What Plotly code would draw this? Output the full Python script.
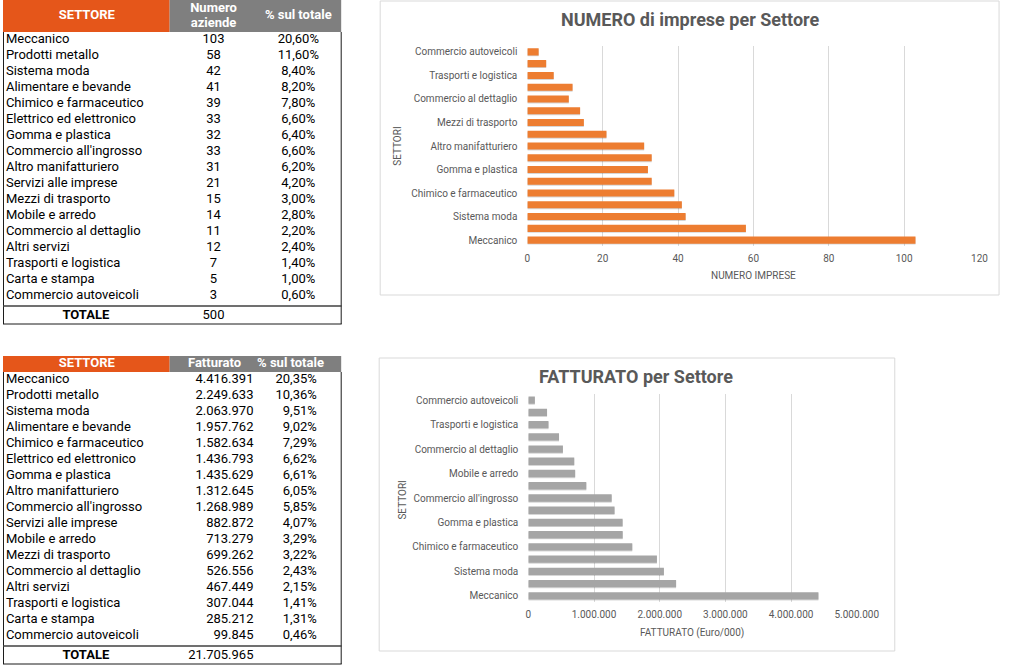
import plotly.graph_objects as go

# ---------------- DATA ----------------
settori_num = ["Meccanico", "Prodotti metallo", "Sistema moda", "Alimentare e bevande",
               "Chimico e farmaceutico", "Elettrico ed elettronico", "Gomma e plastica",
               "Commercio all'ingrosso", "Altro manifatturiero", "Servizi alle imprese",
               "Mezzi di trasporto", "Mobile e arredo", "Commercio al dettaglio",
               "Altri servizi", "Trasporti e logistica", "Carta e stampa",
               "Commercio autoveicoli"]
numero_aziende = [103, 58, 42, 41, 39, 33, 32, 33, 31, 21, 15, 14, 11, 12, 7, 5, 3]
perc_numero = ["20,60%", "11,60%", "8,40%", "8,20%", "7,80%", "6,60%", "6,40%", "6,60%",
               "6,20%", "4,20%", "3,00%", "2,80%", "2,20%", "2,40%", "1,40%", "1,00%", "0,60%"]
totale_numero = 500

settori_fatt = ["Meccanico", "Prodotti metallo", "Sistema moda", "Alimentare e bevande",
                "Chimico e farmaceutico", "Elettrico ed elettronico", "Gomma e plastica",
                "Altro manifatturiero", "Commercio all'ingrosso", "Servizi alle imprese",
                "Mobile e arredo", "Mezzi di trasporto", "Commercio al dettaglio",
                "Altri servizi", "Trasporti e logistica", "Carta e stampa",
                "Commercio autoveicoli"]
fatturato = [4416391, 2249633, 2063970, 1957762, 1582634, 1436793, 1435629, 1312645,
             1268989, 882872, 713279, 699262, 526556, 467449, 307044, 285212, 99845]
perc_fatt = ["20,35%", "10,36%", "9,51%", "9,02%", "7,29%", "6,62%", "6,61%", "6,05%",
             "5,85%", "4,07%", "3,29%", "3,22%", "2,43%", "2,15%", "1,41%", "1,31%", "0,46%"]
totale_fatt = 21705965

x_ticks_num = [0, 20, 40, 60, 80, 100, 120]
x_ticks_fatt = [0, 1000000, 2000000, 3000000, 4000000, 5000000]

# ---------------- STYLE ----------------
W, H = 1024, 666
ORANGE_HDR = "#E5561A"
GRAY_HDR = "#7F7F7F"
ORANGE_BAR = "#ED7D31"
GRAY_BAR = "#A5A5A5"
TXT = "#595959"
GRID = "#D9D9D9"
FONT = "Roboto"
ROW_H = 16


def it_num(v):
    return f"{v:,}".replace(",", ".")


def px(x):
    return x / W


def py(y):
    return 1 - y / H


fig = go.Figure()


# ---------------- CHART BARS ----------------
def add_bar_chart(xa, ya, cats, vals, color):
    ax = "x" if xa == 1 else f"x{xa}"
    ay = "y" if ya == 1 else f"y{ya}"
    fig.add_trace(go.Bar(x=vals, y=cats, orientation="h", xaxis=ax, yaxis=ay,
                         marker=dict(color="rgba(0,0,0,0.16)", line_width=0),
                         width=0.6, offset=-0.38, hoverinfo="skip", showlegend=False))
    fig.add_trace(go.Bar(x=vals, y=cats, orientation="h", xaxis=ax, yaxis=ay,
                         marker=dict(color=color, line_width=0),
                         width=0.6, offset=-0.3, showlegend=False))


add_bar_chart(1, 1, settori_num, numero_aziende, ORANGE_BAR)
add_bar_chart(2, 2, settori_fatt, fatturato, GRAY_BAR)

tickfont = dict(family=FONT, size=10, color=TXT)
fig.update_layout(
    xaxis=dict(domain=[px(538), px(1002)], anchor="y", range=[0, 120], tickvals=x_ticks_num,
               showgrid=True, gridcolor=GRID, gridwidth=1, zeroline=False, showline=False,
               tickfont=tickfont, ticklabelstandoff=5, fixedrange=True),
    yaxis=dict(domain=[py(246), py(46)], anchor="x", type="category",
               categoryarray=settori_num, categoryorder="array",
               tickvals=settori_num[::2], showgrid=False, zeroline=False, showline=False,
               tickfont=tickfont, ticklabelstandoff=9, fixedrange=True),
    xaxis2=dict(domain=[px(539), px(876)], anchor="y2", range=[0, 5000000],
                tickvals=x_ticks_fatt, tickformat=",d",
                showgrid=True, gridcolor=GRID, gridwidth=1, zeroline=False, showline=False,
                tickfont=tickfont, ticklabelstandoff=5, fixedrange=True),
    yaxis2=dict(domain=[py(602), py(394)], anchor="x2", type="category",
                categoryarray=settori_fatt, categoryorder="array",
                tickvals=settori_fatt[::2], showgrid=False, zeroline=False, showline=False,
                tickfont=tickfont, ticklabelstandoff=9, fixedrange=True),
)


# ---------------- TABLES (text traces on hidden axes, pixel-like units) ----------------
def add_table(idx, top, height, header_h, col_specs, header_specs, rows, total_row, sep_y):
    ax, ay = f"x{idx}", f"y{idx}"
    fig.layout[f"xaxis{idx}"] = dict(domain=[0, px(348)], range=[0, 348], visible=False,
                                     fixedrange=True)
    fig.layout[f"yaxis{idx}"] = dict(domain=[py(top + height), py(top)], range=[height, 0],
                                     visible=False, fixedrange=True)
    # header fills
    fig.add_shape(type="rect", xref=ax, yref=ay, x0=0, x1=171, y0=0, y1=header_h,
                  fillcolor=ORANGE_HDR, line_width=0, layer="below")
    fig.add_shape(type="rect", xref=ax, yref=ay, x0=171, x1=347, y0=0, y1=header_h,
                  fillcolor=GRAY_HDR, line_width=0, layer="below")
    # header text
    for (hx, pos, lines) in header_specs:
        n = len(lines)
        for k, t in enumerate(lines):
            yy = header_h / 2 + (k - (n - 1) / 2) * 15.5
            fig.add_trace(go.Scatter(x=[hx], y=[yy], mode="text", text=[t],
                                     textposition=pos, xaxis=ax, yaxis=ay,
                                     textfont=dict(family=FONT, size=13, color="white",
                                                   weight="bold"),
                                     hoverinfo="skip", showlegend=False, cliponaxis=False))
    # body text
    n_rows = len(rows[0])
    ys = [header_h + ROW_H * (i + 0.5) for i in range(n_rows)]
    for (cx, pos), col in zip(col_specs, rows):
        fig.add_trace(go.Scatter(x=[cx] * n_rows, y=ys, mode="text", text=col,
                                 textposition=pos, xaxis=ax, yaxis=ay,
                                 textfont=dict(family=FONT, size=13, color="black"),
                                 hoverinfo="skip", showlegend=False, cliponaxis=False))
    # total row
    ty = (sep_y + height - 1) / 2 + 0.5
    for (cx, pos), t in zip(col_specs, total_row):
        if t == "":
            continue
        bold = t == "TOTALE"
        fig.add_trace(go.Scatter(x=[85 if bold else cx], y=[ty], mode="text", text=[t],
                                 textposition="middle center" if bold else pos,
                                 xaxis=ax, yaxis=ay,
                                 textfont=dict(family=FONT, size=13, color="black",
                                               weight="bold" if bold else "normal"),
                                 hoverinfo="skip", showlegend=False, cliponaxis=False))
    # borders
    line = dict(color="#1a1a1a", width=1)
    fig.add_shape(type="line", xref=ax, yref=ay, x0=0.5, x1=0.5, y0=header_h, y1=height - 1,
                  line=line)
    fig.add_shape(type="line", xref=ax, yref=ay, x0=347, x1=347, y0=header_h, y1=height - 1,
                  line=line)
    fig.add_shape(type="line", xref=ax, yref=ay, x0=0, x1=347.5, y0=sep_y, y1=sep_y,
                  line=dict(color="#404040", width=1.6))
    fig.add_shape(type="line", xref=ax, yref=ay, x0=0, x1=347.5, y0=height - 1,
                  y1=height - 1, line=line)


# Table 1
add_table(
    3, top=0, height=325, header_h=32,
    col_specs=[(3, "middle right"), (216, "middle center"), (303, "middle center")],
    header_specs=[(86, "middle center", ["SETTORE"]),
                  (216, "middle center", ["Numero", "aziende"]),
                  (303, "middle center", ["% sul totale"])],
    rows=[settori_num, [str(v) for v in numero_aziende], perc_numero],
    total_row=["TOTALE", str(totale_numero), ""],
    sep_y=306,
)

# Table 2
add_table(
    4, top=356, height=309, header_h=16,
    col_specs=[(3, "middle right"), (257, "middle left"), (322, "middle left")],
    header_specs=[(86, "middle center", ["SETTORE"]),
                  (217, "middle center", ["Fatturato"]),
                  (295, "middle center", ["% sul totale"])],
    rows=[settori_fatt, [it_num(v) for v in fatturato], perc_fatt],
    total_row=["TOTALE", it_num(totale_fatt), ""],
    sep_y=290,
)

# ---------------- CHART FRAMES & TITLES ----------------
fig.add_shape(type="rect", xref="paper", yref="paper", x0=px(387), x1=px(1022),
              y0=py(295), y1=py(1), line=dict(color=GRID, width=1), fillcolor="white",
              layer="below")
fig.add_shape(type="rect", xref="paper", yref="paper", x0=px(386), x1=px(915),
              y0=py(651), y1=py(358), line=dict(color=GRID, width=1), fillcolor="white",
              layer="below")

ann = []
ann.append(dict(text="<b>NUMERO di imprese per Settore</b>", x=px(705), y=py(20),
                font=dict(family=FONT, size=18, color=TXT)))
ann.append(dict(text="NUMERO IMPRESE", x=px(770), y=py(275),
                font=dict(family=FONT, size=10, color=TXT)))
ann.append(dict(text="SETTORI", x=px(404), y=py(146), textangle=-90,
                font=dict(family=FONT, size=10, color=TXT)))
ann.append(dict(text="<b>FATTURATO per Settore</b>", x=px(650), y=py(377),
                font=dict(family=FONT, size=18, color=TXT)))
ann.append(dict(text="FATTURATO (Euro/000)", x=px(707), y=py(633),
                font=dict(family=FONT, size=10, color=TXT)))
ann.append(dict(text="SETTORI", x=px(410), y=py(500), textangle=-90,
                font=dict(family=FONT, size=10, color=TXT)))
for a in ann:
    a.update(xref="paper", yref="paper", showarrow=False, xanchor="center", yanchor="middle")

fig.update_layout(
    width=W, height=H, autosize=False, margin=dict(l=0, r=0, t=0, b=0, pad=0),
    paper_bgcolor="white", plot_bgcolor="rgba(0,0,0,0)",
    font=dict(family=FONT, color=TXT), separators=",.",
    barmode="overlay", bargap=0.4, annotations=ann, showlegend=False,
)

fig.write_html(
    "out.html",
    config={"displayModeBar": False, "responsive": False},
    post_script="document.body.style.margin='0';document.body.style.padding='0';"
                "document.body.style.overflow='hidden';"
                "document.documentElement.style.overflow='hidden';",
)
